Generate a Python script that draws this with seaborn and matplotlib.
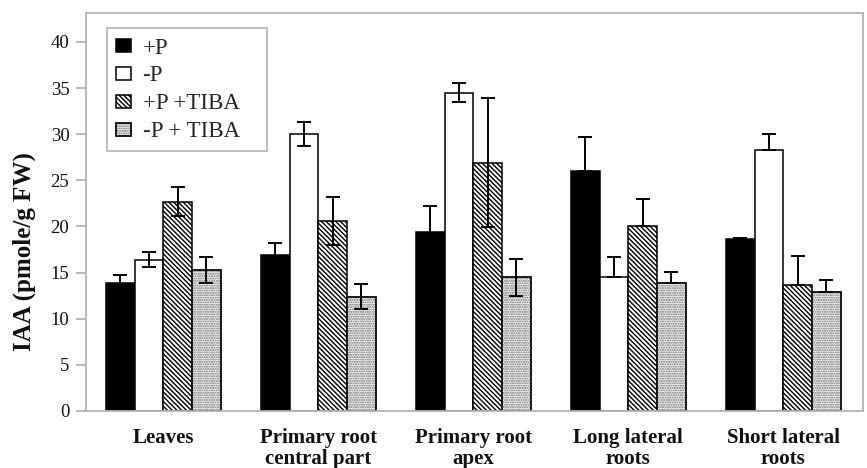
import numpy as np
import pandas as pd
import matplotlib
matplotlib.use("Agg")
import matplotlib.pyplot as plt
import seaborn as sns
from matplotlib.patches import Patch, Rectangle
from matplotlib.legend_handler import HandlerTuple

# ---------------- data ----------------
categories = ["Leaves", "Primary root\ncentral part", "Primary root\napex",
              "Long lateral\nroots", "Short lateral\nroots"]
treatments = ["+P", "-P", "+P +TIBA", "-P + TIBA"]

plus_p = [13.9, 16.9, 19.4, 26.0, 18.6]
minus_p = [16.4, 30.0, 34.5, 14.5, 28.3]
plus_p_tiba = [22.7, 20.6, 26.9, 20.0, 13.7]
minus_p_tiba = [15.3, 12.4, 14.5, 13.9, 12.9]

err_plus_p = [0.8, 1.3, 2.8, 3.7, 0.2]
err_minus_p = [0.8, 1.3, 1.0, 2.2, 1.7]
err_plus_p_tiba = [1.6, 2.6, 7.0, 3.0, 3.1]
err_minus_p_tiba = [1.4, 1.4, 2.0, 1.2, 1.3]
lower_error_drawn = [1, 1, 1, 0, 0]

yticks = [0, 5, 10, 15, 20, 25, 30, 35, 40]

values = [plus_p, minus_p, plus_p_tiba, minus_p_tiba]
errors = [err_plus_p, err_minus_p, err_plus_p_tiba, err_minus_p_tiba]

rows = []
for t, vals in zip(treatments, values):
    for c, v in zip(categories, vals):
        rows.append({"Tissue": c, "Treatment": t, "IAA": v})
df = pd.DataFrame(rows)

# ---------------- style ----------------
sns.set_theme(style="white")
plt.rcParams["font.family"] = ["Liberation Serif", "DejaVu Serif"]
plt.rcParams["hatch.linewidth"] = 1.0

GRAY = "#b3b3b3"
DOT = "#666666"
HATCH_DIAG = "\\\\\\\\\\\\\\"
HATCH_DOT = "......."

fig = plt.figure(figsize=(8.67, 4.68), dpi=100)
ax = fig.add_axes([0.0992, 0.1218, 0.8962, 0.8498])

palette = {"+P": "black", "-P": "white", "+P +TIBA": "white", "-P + TIBA": "white"}
sns.barplot(data=df, x="Tissue", y="IAA", hue="Treatment", order=categories,
            hue_order=treatments, palette=palette, saturation=1, width=0.74,
            gap=0, edgecolor="black", linewidth=1.1, errorbar=None,
            legend=False, ax=ax)

for cont, t in zip(ax.containers, treatments):
    for p in cont.patches:
        if t == "+P +TIBA":
            p.set_hatch(HATCH_DIAG)
        elif t == "-P + TIBA":
            p.set_hatch(HATCH_DOT)
            p.set_edgecolor(DOT)
            ax.add_patch(Rectangle(p.get_xy(), p.get_width(), p.get_height(),
                                   fill=False, edgecolor="black", linewidth=1.1,
                                   zorder=p.get_zorder() + 0.1))

for cont, vals, errs in zip(ax.containers, values, errors):
    xs = [p.get_x() + p.get_width() / 2 for p in cont.patches]
    errs = np.array(errs)
    lower = errs * np.array(lower_error_drawn)
    ax.errorbar(xs, vals, yerr=[lower, errs], fmt="none", ecolor="black",
                elinewidth=1.4, capsize=5, capthick=1.4, zorder=6)

ax.set_xlim(-0.5, 4.515)
ax.set_ylim(0, 43.1)
ax.set_yticks(yticks)
ax.set_yticklabels([str(v) for v in yticks])

for s in ax.spines.values():
    s.set_visible(True)
    s.set_color(GRAY)
    s.set_linewidth(1.3)

ax.tick_params(axis="y", left=True, length=7, width=1.3, color=GRAY,
               labelsize=13.5, pad=5, labelcolor="#111111")
ax.tick_params(axis="x", bottom=False, length=0, pad=12, labelsize=15,
               labelcolor="#111111")
for lab in ax.get_xticklabels():
    lab.set_fontweight("bold")
    lab.set_linespacing(1.1)

ax.set_xlabel("")
ax.set_ylabel("IAA (pmole/g FW)", fontsize=18, fontweight="bold", color="#111111")
ax.yaxis.set_label_coords(-0.064, 0.40)

handles = [
    Patch(facecolor="black", edgecolor="black", linewidth=1.1),
    Patch(facecolor="white", edgecolor="black", linewidth=1.1),
    Patch(facecolor="white", edgecolor="black", linewidth=1.1, hatch=HATCH_DIAG),
    (Patch(facecolor="white", edgecolor=DOT, linewidth=1.1, hatch=HATCH_DOT),
     Patch(fill=False, edgecolor="black", linewidth=1.1)),
]
leg = ax.legend(handles, treatments, loc="upper left",
                bbox_to_anchor=(0.027, 0.0, 0.206, 0.962), mode="expand",
                borderaxespad=0, fontsize=16.5, frameon=True, fancybox=False,
                framealpha=1, edgecolor=GRAY, handlelength=0.65,
                handleheight=0.5, handletextpad=0.5, labelspacing=0.3,
                borderpad=0.4,
                handler_map={tuple: HandlerTuple(ndivide=1, pad=0)})
leg.get_frame().set_linewidth(1.2)

fig.savefig("out.png", dpi=100)
